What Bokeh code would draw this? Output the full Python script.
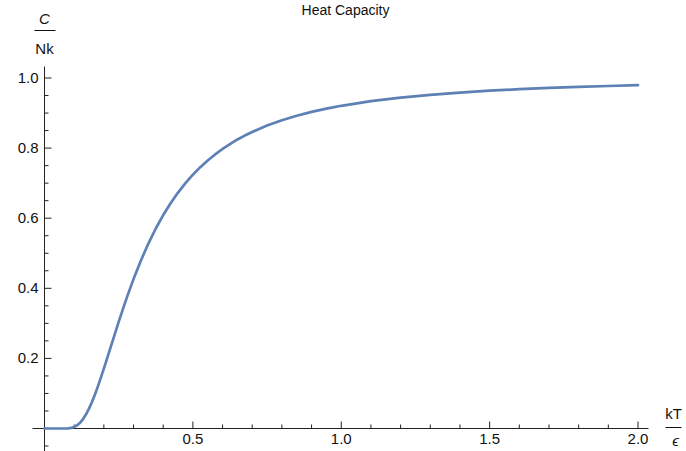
import math
from bokeh.plotting import figure
from bokeh.models import Range1d
from bokeh.core.properties import value
from bokeh.embed import file_html
from bokeh.resources import INLINE

# ---- data (kT/eps vs C/Nk) ----
t_vals = [0.0, 0.02, 0.05, 0.08, 0.09, 0.10, 0.11, 0.12, 0.13, 0.14, 0.15, 0.16, 0.17,
          0.18, 0.19, 0.20, 0.21, 0.22, 0.235, 0.25, 0.265, 0.28, 0.30, 0.325, 0.35,
          0.375, 0.40, 0.425, 0.45, 0.475, 0.50, 0.525, 0.55, 0.575, 0.60, 0.625,
          0.65, 0.675, 0.70, 0.725, 0.75, 0.80, 0.85, 0.90, 0.95, 1.00, 1.10, 1.20,
          1.30, 1.40, 1.50, 1.60, 1.70, 1.80, 1.90, 2.00]
c_vals = [0.0, 0.0, 0.0, 0.0006, 0.0018, 0.0045, 0.0093, 0.0167, 0.0270, 0.0404, 0.0567, 0.0757, 0.0970,
          0.1202, 0.1450, 0.1707, 0.1973, 0.2242, 0.2645, 0.3041, 0.3427, 0.3797, 0.4262, 0.4795, 0.5277,
          0.5706, 0.6089, 0.6429, 0.6731, 0.7002, 0.7241, 0.7456, 0.7646, 0.7819, 0.7975, 0.8114,
          0.8247, 0.8357, 0.8460, 0.8554, 0.8643, 0.8794, 0.8922, 0.9032, 0.9126, 0.9207, 0.9339, 0.9441,
          0.9521, 0.9582, 0.9638, 0.9680, 0.9716, 0.9749, 0.9772, 0.9794]

x_major = [0.5, 1.0, 1.5, 2.0]
x_major_labels = ["0.5", "1.0", "1.5", "2.0"]
x_minor = [0.1, 0.2, 0.3, 0.4, 0.6, 0.7, 0.8, 0.9, 1.1, 1.2, 1.3, 1.4, 1.6, 1.7, 1.8, 1.9]
y_major = [0.2, 0.4, 0.6, 0.8, 1.0]
y_major_labels = ["0.2", "0.4", "0.6", "0.8", "1.0"]
y_minor = [-0.05, 0.05, 0.1, 0.15, 0.25, 0.3, 0.35, 0.45, 0.5, 0.55, 0.65, 0.7, 0.75,
           0.85, 0.9, 0.95]

title_text = "Heat Capacity"

# ---- layout ----
W, H = 686, 451
X0, PXX = 44.0, 296.75     # canvas px of x=0, px per unit
Y0, PXY = 428.0, 350.5     # canvas px (from top) of y=0, px per unit

def wx(px):  # canvas px -> data x
    return (px - X0) / PXX

def wy(py):  # canvas px -> data y
    return (Y0 - py) / PXY

p = figure(width=W, height=H, output_backend="svg", toolbar_location=None,
           x_range=Range1d(-X0 / PXX, (W - X0) / PXX),
           y_range=Range1d((Y0 - H) / PXY, Y0 / PXY),
           x_axis_location=None, y_axis_location=None, min_border=0)
p.grid.visible = False
p.outline_line_color = None
p.background_fill_color = "white"
p.border_fill_color = "white"

AX = "#222222"
TXT = "#111111"
FONT = value("Liberation Sans")

# axes lines
p.segment(x0=[wx(32)], y0=[0], x1=[wx(648)], y1=[0], line_color=AX, line_width=1)
p.segment(x0=[0], y0=[wy(66)], x1=[0], y1=[wy(460)], line_color=AX, line_width=1)

# ticks
p.ray(x=x_major, y=[0] * len(x_major), length=7, angle=math.pi / 2,
      length_units="screen", line_color=AX, line_width=1)
p.ray(x=x_minor, y=[0] * len(x_minor), length=4, angle=math.pi / 2,
      length_units="screen", line_color=AX, line_width=1)
p.ray(x=[0] * len(y_major), y=y_major, length=7, angle=0,
      length_units="screen", line_color=AX, line_width=1)
p.ray(x=[0] * len(y_minor), y=y_minor, length=4, angle=0,
      length_units="screen", line_color=AX, line_width=1)

# tick labels
p.text(x=x_major, y=[0] * len(x_major), text=x_major_labels, y_offset=5,
       text_align="center", text_baseline="top", text_font=FONT,
       text_font_size="15px", text_color=TXT)
p.text(x=[0] * len(y_major), y=y_major, text=y_major_labels, x_offset=-6,
       text_align="right", text_baseline="middle", text_font=FONT,
       text_font_size="15px", text_color=TXT)

# curve
p.line(t_vals, c_vals, line_color="#5E81B5", line_width=2.7, line_cap="round",
       line_join="round")

# title at the very top of the picture
p.text(x=[wx(345)], y=[wy(1)], text=[title_text], text_align="center",
       text_baseline="top", text_font=FONT, text_font_size="14px",
       text_color=TXT)

# y-axis label as fraction C / Nk
p.text(x=[wx(44)], y=[wy(18)], text=["C"], text_align="center",
       text_baseline="middle", text_font=FONT, text_font_style="italic",
       text_font_size="15px", text_color=TXT)
p.segment(x0=[wx(34)], y0=[wy(30)], x1=[wx(55)], y1=[wy(30)],
          line_color=TXT, line_width=1)
p.text(x=[wx(44)], y=[wy(48)], text=["Nk"], text_align="center",
       text_baseline="middle", text_font=FONT,
       text_font_size="15px", text_color=TXT)

# x-axis label as fraction kT / eps
p.text(x=[wx(673)], y=[wy(413)], text=["kT"], text_align="center",
       text_baseline="middle", text_font=FONT,
       text_font_size="15px", text_color=TXT)
p.segment(x0=[wx(665)], y0=[wy(427)], x1=[wx(681)], y1=[wy(427)],
          line_color=TXT, line_width=1)
p.text(x=[wx(675)], y=[wy(440)], text=["\u03f5"], text_align="center",
       text_baseline="middle", text_font=FONT, text_font_style="italic",
       text_font_size="15px", text_color=TXT)

open("out.html", "w").write(file_html(p, INLINE))
